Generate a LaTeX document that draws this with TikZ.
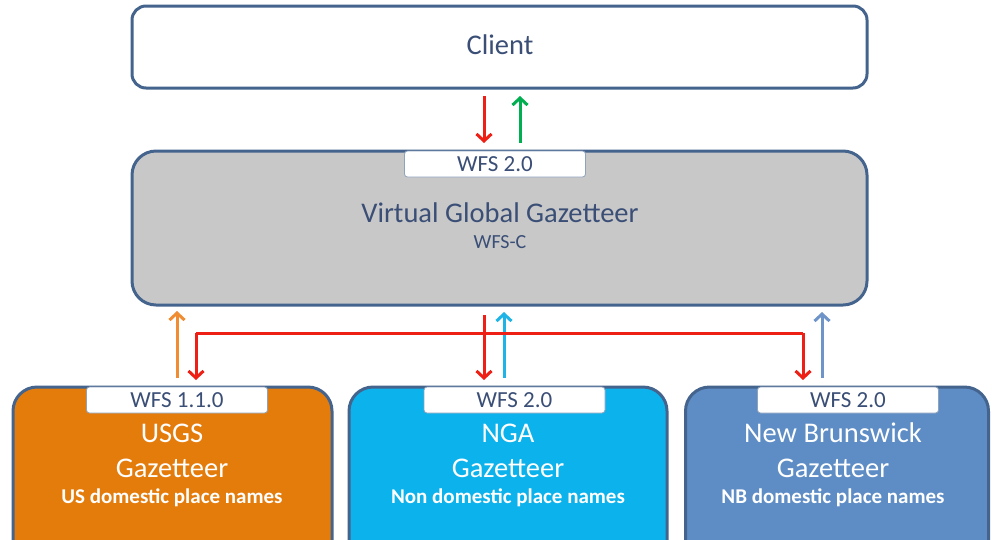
\documentclass[tikz,border=0pt]{standalone}
\usepackage{fontspec}
\setmainfont{Carlito}
\usetikzlibrary{arrows.meta}
\definecolor{bord}{RGB}{68,100,142}
\definecolor{txtblue}{RGB}{58,78,118}
\definecolor{vggfill}{RGB}{200,200,200}
\definecolor{usgsfill}{RGB}{228,124,12}
\definecolor{ngafill}{RGB}{12,178,236}
\definecolor{nbfill}{RGB}{94,141,198}
\definecolor{arrred}{RGB}{238,32,22}
\definecolor{arrgreen}{RGB}{0,176,80}
\definecolor{arrorange}{RGB}{240,140,50}
\definecolor{arrcyan}{RGB}{30,180,230}
\definecolor{arrsteel}{RGB}{110,148,200}
\tikzset{
  bigbox/.style={draw=bord, line width=3pt, rounded corners=20pt, inner sep=0pt},
  lbl/.style={draw=bord!60, line width=0.8pt, fill=white, rounded corners=3pt, minimum width=181pt, minimum height=26pt, inner sep=0pt, text=txtblue, font=\fontsize{23}{25}\selectfont},
  bigtxt/.style={font=\fontsize{28.5}{30}\selectfont, inner sep=0pt},
  subtxt/.style={font=\bfseries\fontsize{21}{23}\selectfont, inner sep=0pt, text=white},
  arr/.style={line width=3pt, -{Straight Barb[length=7pt,width=15pt]}},
}
\begin{document}
\begin{tikzpicture}[x=1pt,y=-1pt]
\useasboundingbox (0,0) rectangle (992,539);
\clip (0,0) rectangle (992,539);
% boxes
\node[bigbox, fill=white, rounded corners=14pt, minimum width=735pt, minimum height=82pt] (client) at (499.5,47) {};
\node[bigbox, fill=vggfill, rounded corners=24pt, minimum width=735pt, minimum height=154pt] (vgg) at (499.5,228) {};
\node[bigbox, fill=usgsfill, rounded corners=24pt, minimum width=319pt, minimum height=180pt] (usgs) at (172.5,477) {};
\node[bigbox, fill=ngafill, rounded corners=24pt, minimum width=318pt, minimum height=180pt] (nga) at (508,477) {};
\node[bigbox, fill=nbfill, rounded corners=24pt, minimum width=303pt, minimum height=180pt] (nb) at (837,477) {};
% labels
\node[lbl] (vggl) at (495,164) {WFS 2.0};
\node[lbl] (usgsl) at (177,400) {WFS 1.1.0};
\node[lbl] (ngal) at (514.5,400) {WFS 2.0};
\node[lbl] (nbl) at (848,400) {WFS 2.0};
% texts
\node[bigtxt, text=txtblue] (clientt) at (500,45) {Client};
\node[bigtxt, text=txtblue] (vggt) at (500,213) {Virtual Global Gazetteer};
\node[font=\fontsize{20}{22}\selectfont, inner sep=0pt, text=txtblue] (vggs) at (500,242) {WFS-C};
\node[bigtxt, text=white] (usgst1) at (172,433) {USGS};
\node[bigtxt, text=white] (usgst2) at (172,468) {Gazetteer};
\node[subtxt] (usgst3) at (172,498) {US domestic place names};
\node[bigtxt, text=white] (ngat1) at (508,433) {NGA};
\node[bigtxt, text=white] (ngat2) at (508,468) {Gazetteer};
\node[subtxt] (ngat3) at (508,498) {Non domestic place names};
\node[bigtxt, text=white] (nbt1) at (833,433) {New Brunswick};
\node[bigtxt, text=white] (nbt2) at (833,468) {Gazetteer};
\node[subtxt] (nbt3) at (833,498) {NB domestic place names};
% connector coordinates
\coordinate (cr1) at (484,96);
\coordinate (cr2) at (484,143);
\coordinate (cg1) at (520,143);
\coordinate (cg2) at (520,96);
\coordinate (rs) at (484,315);
\coordinate (re) at (484,380);
\coordinate (rl) at (196,333);
\coordinate (rle) at (196,380);
\coordinate (rr) at (803,333);
\coordinate (rre) at (803,380);
\coordinate (o1) at (177,378);
\coordinate (o2) at (177,311);
\coordinate (b1) at (504,378);
\coordinate (b2) at (504,312);
\coordinate (s1) at (822,378);
\coordinate (s2) at (822,312);
% connectors
\draw[arr, arrred] (cr1) -- (cr2);
\draw[arr, arrgreen] (cg1) -- (cg2);
\draw[arr, arrorange] (o1) -- (o2);
\draw[arr, arrcyan] (b1) -- (b2);
\draw[arr, arrsteel] (s1) -- (s2);
\draw[arrred, line width=3pt] (rl) -- (rr);
\draw[arr, arrred] (rs) -- (re);
\draw[arr, arrred] (rl) -- (rle);
\draw[arr, arrred] (rr) -- (rre);
\end{tikzpicture}
\end{document}
